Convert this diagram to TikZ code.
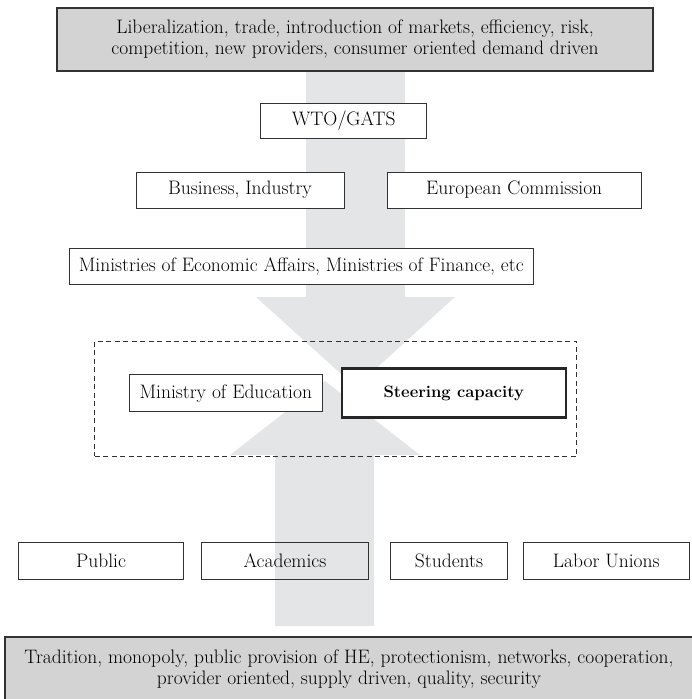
\documentclass[tikz,border=0pt]{standalone}
\definecolor{boxgray}{RGB}{211,211,212}
\definecolor{arrowgray}{RGB}{228,229,231}
\definecolor{linecol}{RGB}{50,50,50}
\begin{document}
\begin{tikzpicture}[x=1pt,y=-1pt,
  txt/.style={font=\fontsize{19.5}{21}\selectfont, align=center, inner sep=0pt},
  box/.style={txt, draw=linecol, line width=1pt, fill=white},
  openbox/.style={txt, draw=linecol, line width=1pt},
  bigbox/.style={txt, draw=linecol, line width=1.5pt, fill=boxgray},
  strongbox/.style={txt, draw=black!85, line width=2.6pt, fill=white, font=\fontsize{16.6}{21}\selectfont\bfseries},
  group/.style={draw=linecol, line width=0.9pt, dash pattern=on 5pt off 3.5pt, inner sep=0pt},
  flow/.style={fill=arrowgray}]
\useasboundingbox (0,0) rectangle (692,699);
% background arrows
\fill[flow] (306,70) -- (405,70) -- (405,297) -- (455,297) -- (355.5,387) -- (256,297) -- (306,297) -- cycle;
\fill[flow] (275,626) -- (374,626) -- (374,455) -- (420,455) -- (325,381) -- (230,455) -- (275,455) -- cycle;
% boxes
\node[bigbox, minimum width=596, minimum height=63] (top) at (355,39.5)
  {Liberalization, trade, introduction of markets, efficiency, risk,\\competition, new providers, consumer oriented demand driven};
\node[box, minimum width=166, minimum height=35] (wto) at (343.7,120.8) {WTO/GATS};
\node[box, minimum width=208, minimum height=36] (bus) at (240,190) {Business, Industry};
\node[box, minimum width=254, minimum height=36] (euc) at (514.2,190) {European Commission};
\node[box, minimum width=464, minimum height=36] (mea) at (301.3,266.2) {Ministries of Economic Affairs, Ministries of Finance, etc};
\node[group, minimum width=482, minimum height=115] (dash) at (335.8,398.5) {};
\node[box, minimum width=193, minimum height=36.7] (moe) at (225.8,393.3) {Ministry of Education};
\node[strongbox, minimum width=224, minimum height=49] (steer) at (453.8,393) {Steering capacity};
\node[openbox, minimum width=165.4, minimum height=37] (pub) at (101,560.5) {Public};
\node[openbox, minimum width=166.6, minimum height=37] (acad) at (285,560.5) {Academics};
\node[openbox, minimum width=117.3, minimum height=37] (stud) at (449,560.5) {Students};
\node[openbox, minimum width=165.4, minimum height=37] (lab) at (606.3,560.5) {Labor Unions};
\node[bigbox, minimum width=688, minimum height=64] (bot) at (349,669)
  {Tradition, monopoly, public provision of HE, protectionism, networks, cooperation,\\provider oriented, supply driven, quality, security};
\end{tikzpicture}
\end{document}
